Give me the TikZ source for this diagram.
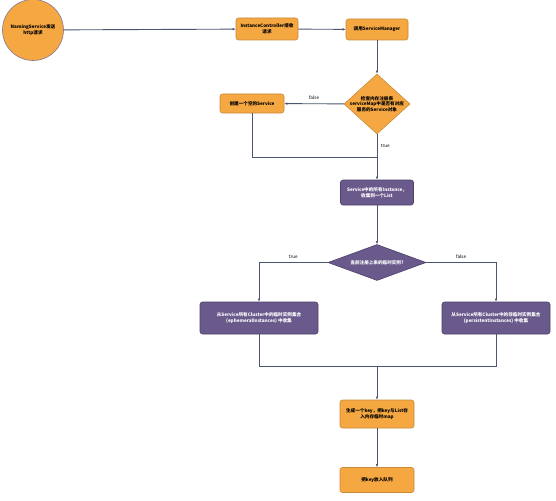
\documentclass[tikz,border=0pt]{standalone}
\usepackage{fontspec}
\newfontfamily\cjk{Noto Sans CJK SC}
\usetikzlibrary{shapes.geometric,arrows.meta}
\definecolor{org}{HTML}{F5A742}
\definecolor{orgb}{HTML}{C98A3A}
\definecolor{pur}{HTML}{6A5A8C}
\definecolor{purb}{HTML}{4E4068}
\definecolor{ln}{HTML}{4A5570}
\tikzset{
  txt/.style={font=\cjk\bfseries\fontsize{4.6}{5.6}\selectfont},
  obox/.style={draw=orgb, fill=org, rounded corners=2.5pt, line width=0.6pt, align=center, inner sep=1pt, txt, text=black},
  pbox/.style={draw=purb, fill=pur, rounded corners=2.5pt, line width=0.6pt, align=center, inner sep=1pt, txt, text=white},
  odia/.style={diamond, draw=orgb, fill=org, line width=0.6pt, inner sep=0pt},
  pdia/.style={diamond, draw=purb, fill=pur, line width=0.6pt, inner sep=0pt},
  conn/.style={draw=ln, line width=0.9pt, -{Latex[length=3pt,width=2.5pt]}},
  plain/.style={draw=ln, line width=0.9pt},
  lbl/.style={font=\cjk\fontsize{4.6}{5.6}\selectfont, text=black}
}
\begin{document}
\begin{tikzpicture}[x=1pt,y=-1pt]
\useasboundingbox[fill=white] (0,0) rectangle (556,500);
\node[circle, draw=purb!70, fill=org, line width=0.6pt, minimum size=61pt, inner sep=0pt, align=center, txt] (start) at (33,30) {NamingService发送\\http请求};
\node[obox, minimum width=62pt, minimum height=22pt] (ic) at (267,29) {InstanceController接收\\请求};
\node[obox, minimum width=62pt, minimum height=21pt] (sm) at (377,29.5) {调用ServiceManager};
\node[odia, minimum width=66pt, minimum height=60pt] (d1) at (377,104) {};
\node[align=center, txt, text=black] (d1t) at (d1.center) {检查内存注册表\\serviceMap中是否有对应\\服务的Service对象};
\node[obox, minimum width=64pt, minimum height=19pt] (cs) at (252,103.5) {创建一个空的Service};
\node[pbox, minimum width=73pt, minimum height=25pt] (sl) at (377,192.5) {Service中的所有Instance，\\收集到一个List};
\node[pdia, minimum width=98pt, minimum height=36pt] (d2) at (377,262.5) {};
\node[txt, text=white] (d2t) at (d2.center) {当前注册上来的临时实例?};
\node[pbox, minimum width=118pt, minimum height=32pt] (eph) at (259,318) {从Service所有Cluster中的临时实例集合\\(ephemeralInstances) 中收集};
\node[pbox, minimum width=108pt, minimum height=32pt] (per) at (496,318) {从Service所有Cluster中的非临时实例集合\\(persistentInstances) 中收集};
\node[obox, minimum width=74pt, minimum height=28pt] (gk) at (377,414) {生成一个key，把key与List存\\入内存临时map};
\node[obox, minimum width=74pt, minimum height=25pt] (q) at (377,480) {把key放入队列};

\coordinate (j1) at (377,157);
\coordinate (j2) at (377,366);

\draw[conn] (start) -- (ic);
\draw[conn] (ic) -- (sm);
\draw[conn] (sm) -- (d1);
\draw[conn] (d1) -- node[lbl, above, pos=0.5] {false} (cs);
\draw[plain] (cs.south) |- (j1);
\draw[conn] (d1.south) -- node[lbl, pos=0.25, right] {true} (sl.north);
\draw[conn] (sl) -- (d2);
\draw[conn] (d2.west) -| node[lbl, pos=0.25, above] {true} (eph.north);
\draw[conn] (d2.east) -| node[lbl, pos=0.25, above] {false} (per.north);
\draw[plain] (eph.south) |- (j2);
\draw[plain] (per.south) |- (j2);
\draw[conn] (j2) -- (gk);
\draw[conn] (gk) -- (q);
\end{tikzpicture}
\end{document}
